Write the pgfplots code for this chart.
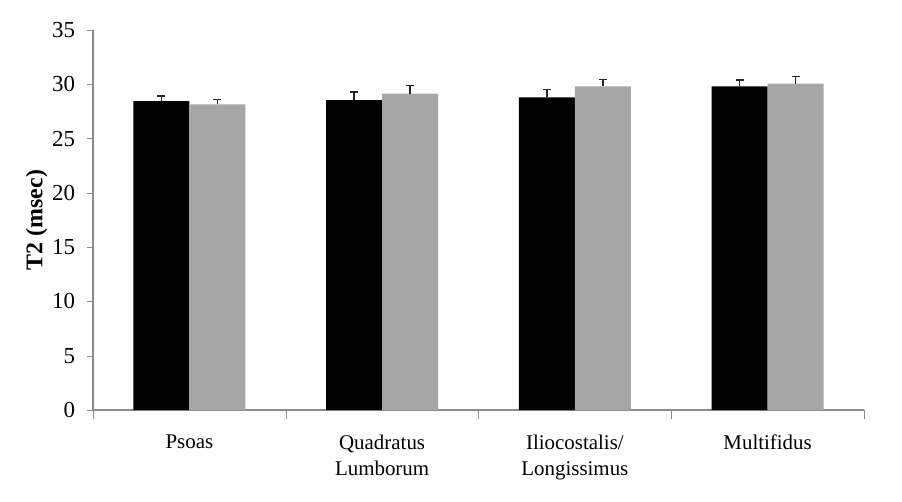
\documentclass[border=0pt]{standalone}
\usepackage{fontspec}
\setmainfont{Liberation Serif}
\usepackage{pgfplots}
\pgfplotsset{compat=1.18}
\definecolor{bargrey}{HTML}{A6A6A6}
\definecolor{axisgrey}{HTML}{8C8C8C}

\begin{document}
\begin{tikzpicture}
\begin{axis}[
    name=ax,
    scale only axis,
    width=385.5bp, height=190bp,
    ybar=0pt, bar width=0.29,
    xmin=-0.5, xmax=3.5,
    ymin=0, ymax=35,
    ytick={0,5,...,35},
    xtick={0,1,2,3},
    xticklabels={Psoas, Quadratus\\Lumborum, Iliocostalis/\\Longissimus, Multifidus},
    minor xtick={-0.5,0.5,1.5,2.5,3.5},
    major x tick style={draw=none},
    minor x tick style={axisgrey},
    y tick style={axisgrey},
    tick align=outside,
    major tick length=3bp,
    minor tick length=4.5bp,
    axis x line*=bottom, axis y line*=left,
    axis line style={axisgrey, line width=0.6pt},
    /pgf/number format/assume math mode=true,
    yticklabel style={font=\fontsize{11.5}{13}\selectfont, xshift=-2.5bp},
    xticklabel style={font=\fontsize{10.5}{13}\selectfont, align=center, anchor=north, yshift=-6bp},
    ylabel={T2 (msec)},
    ylabel style={font=\fontsize{12}{14}\selectfont\bfseries, at={(axis description cs:-0.073,0.5)}, anchor=center},
    error bars/y dir=plus, error bars/y explicit,
    error bars/error bar style={black!85, line width=0.75bp},
    error bars/error mark options={rotate=90, mark size=2bp, black!85, line width=0.75bp},
]
\addplot[fill=black, draw=none] coordinates {
    (0,28.45) +- (0,0.45)
    (1,28.55) +- (0,0.75)
    (2,28.8)  +- (0,0.7)
    (3,29.8)  +- (0,0.6)
};
\addplot[fill=bargrey, draw=none] coordinates {
    (0,28.15) +- (0,0.45)
    (1,29.15) +- (0,0.75)
    (2,29.8)  +- (0,0.65)
    (3,30.05) +- (0,0.65)
};
\end{axis}
\path ([xshift=-46.5bp,yshift=-46bp]ax.south west) rectangle ([xshift=19bp,yshift=15bp]ax.north east);
\end{tikzpicture}
\end{document}
